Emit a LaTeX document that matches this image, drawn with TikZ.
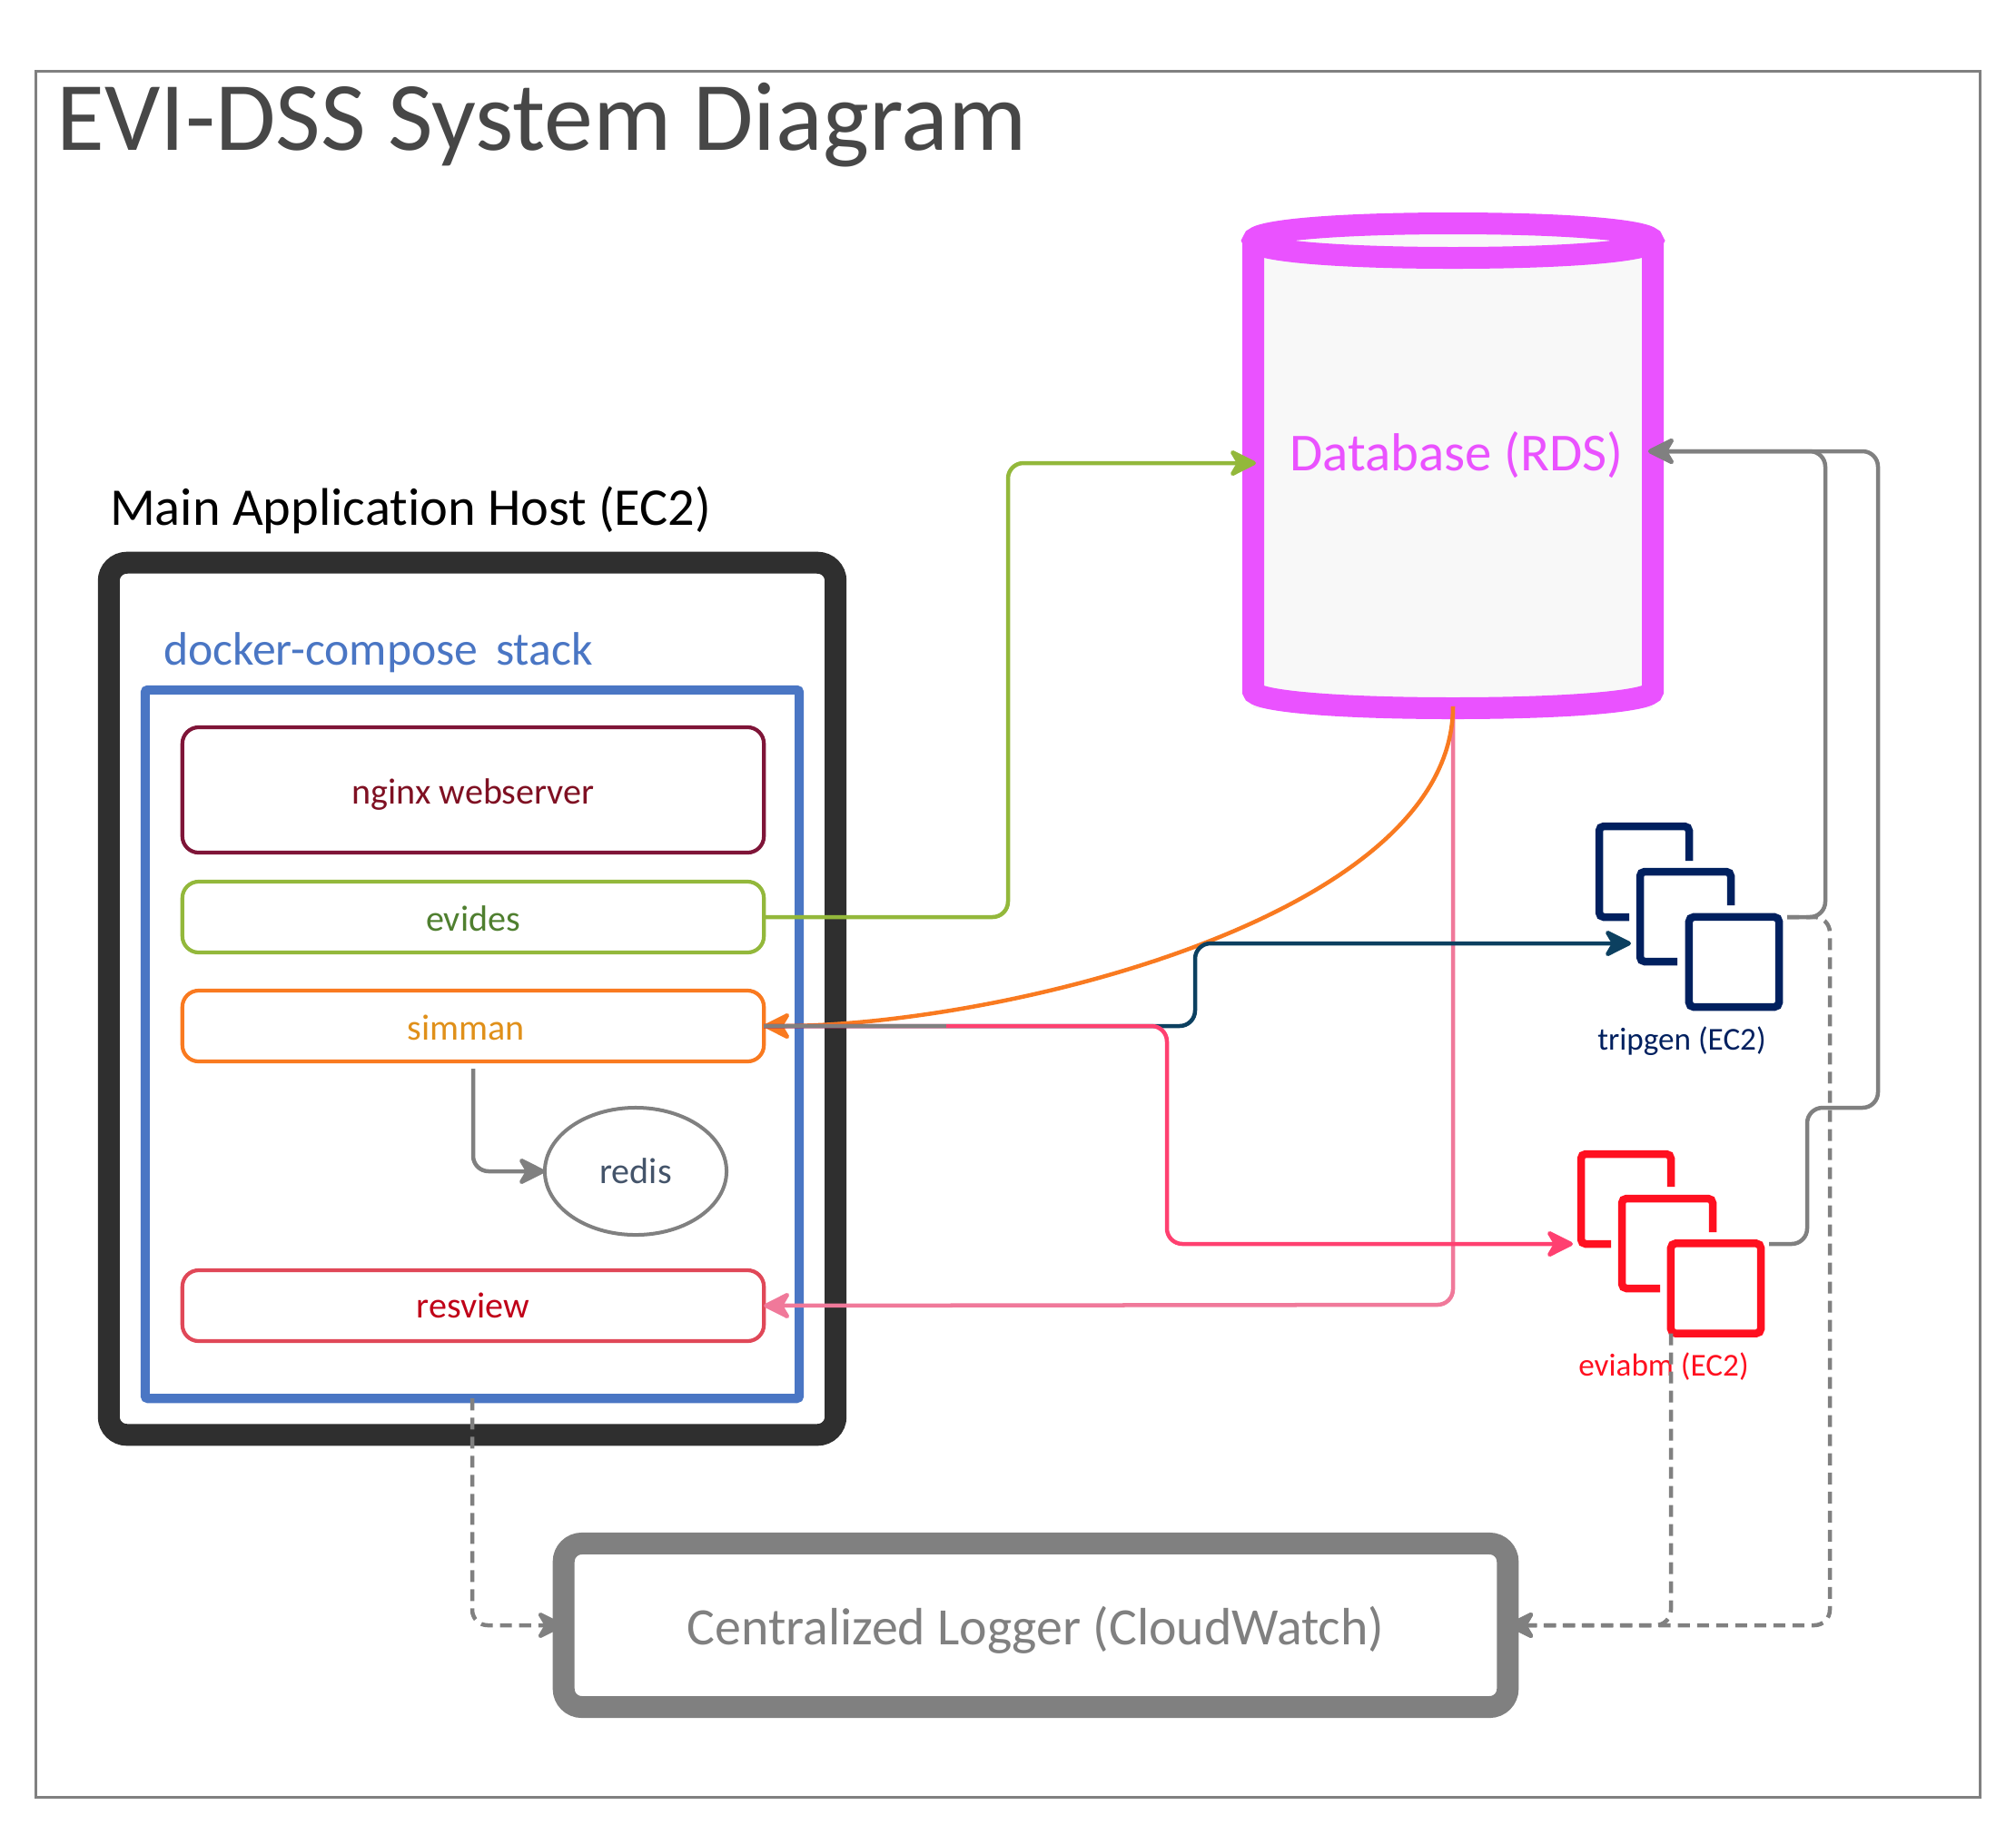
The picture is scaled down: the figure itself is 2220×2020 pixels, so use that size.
\documentclass[tikz,border=0pt]{standalone}
\usepackage{fontspec}
\setmainfont[Ligatures=NoCommon]{Carlito}
\usepackage{xcolor}
\usetikzlibrary{arrows.meta}
\usetikzlibrary{shapes.geometric}

\definecolor{framegray}{HTML}{808080}
\definecolor{titlegray}{HTML}{474747}
\definecolor{hostdark}{HTML}{2F2F2F}
\definecolor{stackblue}{HTML}{4A76C4}
\definecolor{nginxline}{HTML}{7F1538}
\definecolor{nginxtext}{HTML}{7F1022}
\definecolor{evidesline}{HTML}{93B83B}
\definecolor{evidestext}{HTML}{4F7F2F}
\definecolor{simline}{HTML}{F97A20}
\definecolor{simtext}{HTML}{E0901A}
\definecolor{redistext}{HTML}{44546A}
\definecolor{resline}{HTML}{E04858}
\definecolor{restext}{HTML}{C00018}
\definecolor{dbpink}{HTML}{EA52FF}
\definecolor{dbfill}{HTML}{F8F8F8}
\definecolor{tripteal}{HTML}{0C4060}
\definecolor{tripblue}{HTML}{00205F}
\definecolor{abmred}{HTML}{FF1020}
\definecolor{abmpink}{HTML}{FF4070}
\definecolor{viewrose}{HTML}{F0799A}

\newcommand{\boxtext}[2][0.155cm]{\raisebox{-#1}[0pt][0pt]{#2}}

\begin{document}
\begin{tikzpicture}[x=0.01cm, y=-0.01cm,
	svc/.style={draw, rectangle, rounded corners=0.18cm, line width=0.042cm, minimum width=6.4cm, minimum height=0.78cm, outer sep=0pt, font=\fontsize{11.4}{14}\selectfont},
	bigbox/.style={draw, rectangle, rounded corners=0.2cm, line width=0.24cm, outer sep=0pt},
	iconfront/.style={draw, rectangle, rounded corners=0.05cm, line width=0.085cm, minimum size=0.99cm, outer sep=0pt},
	iconline/.style={line width=0.085cm, rounded corners=0.05cm},
	txt/.style={inner sep=0pt, outer sep=0pt, anchor=base},
	conn/.style={line width=0.045cm, rounded corners=0.17cm, -{Stealth[length=0.34cm,width=0.34cm,inset=0.1cm,round]}},
	logconn/.style={conn, framegray, dash pattern=on 0.13cm off 0.08cm},
	plainconn/.style={line width=0.045cm, rounded corners=0.17cm}]

	%Frame and title
	\path[fill=white] (0,0) rectangle (2220,2020);
	\useasboundingbox (0,0) rectangle (2220,2020);
	\node[draw=framegray, line width=0.035cm, minimum width=21.4cm, minimum height=19cm, outer sep=0pt] (frame) at (1110,1029) {};
	\node[txt, anchor=base west, text=titlegray, font=\fontsize{30.7}{36}\selectfont] (title) at (63,165) {EVI-DSS System Diagram};

	%Main host
	\node[txt, anchor=base west, font=\fontsize{16.6}{20}\selectfont] (hostlabel) at (121,578) {Main Application Host (EC2)};
	\node[bigbox, draw=hostdark, fill=white, minimum width=8cm, minimum height=9.6cm] (host) at (520,1100) {};
	\node[txt, anchor=base west, text=stackblue, font=\fontsize{14.7}{18}\selectfont] (stacklabel) at (180,732) {docker-compose\hspace{0.08cm} stack};
	\node[draw=stackblue, fill=white, line width=0.1cm, minimum width=7.2cm, minimum height=7.8cm, rounded corners=0.03cm, outer sep=0pt] (stack) at (520,1150) {};

	%Services
	\node[svc, draw=nginxline, text=nginxtext, minimum height=1.38cm] (nginx) at (521,870) {\boxtext{nginx webserver}};
	\node[svc, draw=evidesline, text=evidestext] (evides) at (521,1010) {\boxtext{evides}};
	\node[svc, draw=simline, text=simtext] (simman) at (521,1130) {\boxtext{simman}\hspace{0.16cm}\null};
	\node[svc, draw=resline, text=restext] (resview) at (521,1438) {\boxtext[0.135cm]{resview}};
	\node[draw=framegray, ellipse, line width=0.04cm, minimum width=2cm, minimum height=1.4cm, inner sep=0pt, outer sep=0pt, text=redistext, font=\fontsize{11.4}{14}\selectfont] (redis) at (700,1290) {redis};

	%Database
	\fill[dbfill] (1380,265) rectangle (1820,780);
	\draw[dbpink, line width=0.24cm] (1380,265) -- (1380,761) .. controls (1380,772) and (1470,780) .. (1600,780) .. controls (1730,780) and (1820,772) .. (1820,761) -- (1820,265);
	\draw[dbpink, line width=0.24cm, fill=dbfill] (1380,265) .. controls (1380,254) and (1470,246) .. (1600,246) .. controls (1730,246) and (1820,254) .. (1820,265) .. controls (1820,276) and (1730,284) .. (1600,284) .. controls (1470,284) and (1380,276) .. (1380,265) -- cycle;
	\node[text=dbpink, inner sep=0pt, outer sep=0pt, font=\fontsize{16.75}{20}\selectfont] (db) at (1604,501.5) {Database (RDS)};
	\coordinate (dbin) at (1383,510);
	\coordinate (dbout) at (1815,497);
	\coordinate (dbbottom) at (1600,778);

	%Logger
	\node[bigbox, draw=framegray, fill=white, text=framegray, minimum width=10.39cm, minimum height=1.8cm, font=\fontsize{16.45}{20}\selectfont] (logger) at (1140.5,1790) {\boxtext[0.214cm]{Centralized Logger (CloudWatch)}};

	%tripgen
	\draw[iconline, tripblue] (1860,948) -- (1860,910) -- (1761,910) -- (1761,1010) -- (1794,1010);
	\draw[iconline, tripblue] (1906,997) -- (1906,960) -- (1806,960) -- (1806,1059) -- (1847,1059);
	\node[iconfront, draw=tripblue] (tripfront) at (1909.5,1059.5) {};
	\node[txt, text=tripblue, font=\fontsize{10}{12}\selectfont] (triplabel) at (1852,1156) {tripgen (EC2)};
	\coordinate (tripin) at (1796,1039);
	\coordinate (tripout) at (1968,1010);

	%eviabm
	\draw[iconline, abmred] (1840,1307) -- (1840,1271) -- (1741,1271) -- (1741,1370) -- (1774,1370);
	\draw[iconline, abmred] (1886,1357) -- (1886,1320) -- (1786,1320) -- (1786,1419) -- (1828,1419);
	\node[iconfront, draw=abmred] (abmfront) at (1889.5,1419) {};
	\node[txt, text=abmred, font=\fontsize{10}{12}\selectfont] (abmlabel) at (1832,1515) {eviabm (EC2)};
	\coordinate (abmin) at (1732,1370);
	\coordinate (abmout) at (1948,1370);

	%Edges
	\draw[conn, viewrose] (dbbottom) -- (1600,1437) -- (resview.east |- 0,1438);
	\draw[conn, simline] (dbbottom) .. controls (1600,1010) and (1100,1130) .. (simman.east);
	\draw[conn, evidesline] (evides.east) -- (1110,1010) -- (1110,510) -- (dbin);
	\draw[conn, tripteal] (simman.east) -- (1316,1130) -- (1316,1039) -- (tripin);
	\draw[conn, abmpink] (simman.east) -- (1285,1130) -- (1285,1370) -- (abmin);
	\coordinate (graystop) at (1042,1130);
	\draw[plainconn, framegray] (simman.east) -- (graystop);
	\draw[conn, framegray, shorten <=0.08cm] (simman.south) |- (redis.west);
	\draw[conn, framegray] (tripout) -- (2010,1010) -- (2010,497) -- (dbout);
	\draw[conn, framegray] (abmout) -- (1990,1370) -- (1990,1220) -- (2068,1220) -- (2068,497) -- (dbout);

	%Log edges
	\draw[logconn] (stack.south) |- (logger.west);
	\draw[logconn] (tripout) -- (2015,1010) -- (2015,1790) -- (logger.east);
	\draw[logconn] (abmfront.south -| 1840,0) -- (1840,1790) -- (logger.east);
\end{tikzpicture}
\end{document}
